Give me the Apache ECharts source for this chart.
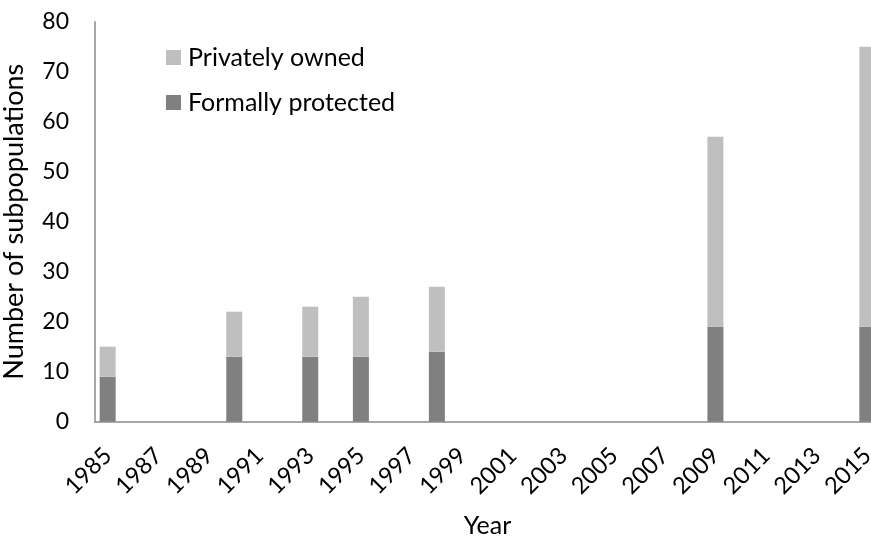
<!DOCTYPE html>
<html>
<head>
<meta charset="utf-8">
<script src="https://cdn.jsdelivr.net/npm/echarts@6/dist/echarts.min.js"></script>
<style>
  html, body { margin: 0; padding: 0; background: #fff; }
  #chart { width: 871px; height: 537px; }
</style>
</head>
<body>
<div id="chart"></div>
<script>
// Year categories along the x axis
const categories = ['1985','1986','1987','1988','1989','1990','1991','1992','1993','1994',
  '1995','1996','1997','1998','1999','2000','2001','2002','2003','2004',
  '2005','2006','2007','2008','2009','2010','2011','2012','2013','2014','2015'];

// Survey years that have counts
const surveyYears = ['1985','1990','1993','1995','1998','2009','2015'];
// Subpopulations in formally protected areas
const protectedCounts = [9, 13, 13, 13, 14, 19, 19];
// Subpopulations on private land (stacked on top)
const privateCounts = [6, 9, 10, 12, 13, 38, 56];

// Y axis ticks
const yMin = 0, yMax = 80, yStep = 10;

function spread(values) {
  return categories.map(c => {
    const i = surveyYears.indexOf(c);
    return i < 0 ? null : values[i];
  });
}

const font = 'Lato, "Open Sans", sans-serif';
const chart = echarts.init(document.getElementById('chart'), null, { renderer: 'canvas' });

chart.setOption({
  animation: false,
  backgroundColor: '#fff',
  textStyle: { fontFamily: font },
  grid: {
    left: 95, right: -9, top: 21.7, bottom: 115.3,
    containLabel: false,
    outerBoundsMode: 'none'
  },
  legend: {
    orient: 'vertical',
    left: 166, top: 45,
    padding: 0,
    itemWidth: 15, itemHeight: 15, itemGap: 20,
    icon: 'rect',
    data: ['Privately owned', 'Formally protected'],
    textStyle: { fontSize: 25, color: '#000', fontFamily: font, padding: [0, 0, 0, 2] }
  },
  xAxis: {
    type: 'category',
    data: categories,
    name: 'Year',
    nameLocation: 'middle',
    nameGap: 92,
    nameTextStyle: { fontSize: 25, color: '#000', fontFamily: font },
    axisLine: { show: true, lineStyle: { color: '#8a8a8a', width: 1.5 } },
    axisTick: { show: false },
    axisLabel: {
      interval: 1,
      rotate: 45,
      margin: 30,
      fontSize: 23.5,
      color: '#000',
      fontFamily: font
    }
  },
  yAxis: {
    type: 'value',
    min: yMin, max: yMax, interval: yStep,
    name: 'Number of subpopulations',
    nameLocation: 'middle',
    nameGap: 67,
    nameTextStyle: { fontSize: 27, color: '#000', fontFamily: font },
    splitLine: { show: false },
    axisLine: { show: true, lineStyle: { color: '#8a8a8a', width: 1.5 } },
    axisTick: { show: false },
    axisLabel: { fontSize: 23, color: '#000', margin: 26, fontFamily: font }
  },
  series: [
    {
      name: 'Formally protected',
      type: 'bar',
      stack: 'total',
      barWidth: 16,
      itemStyle: { color: '#808080' },
      data: spread(protectedCounts)
    },
    {
      name: 'Privately owned',
      type: 'bar',
      stack: 'total',
      barWidth: 16,
      itemStyle: { color: '#bfbfbf' },
      data: spread(privateCounts)
    }
  ]
});
</script>
</body>
</html>
